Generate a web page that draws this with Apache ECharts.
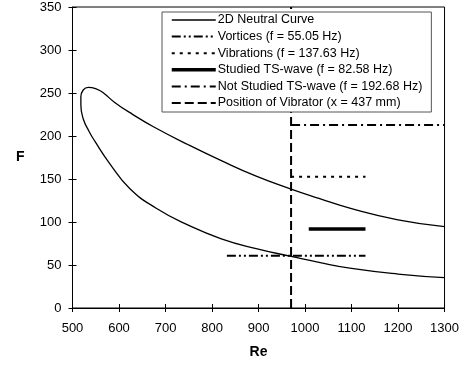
<!DOCTYPE html>
<html>
<head>
<meta charset="utf-8">
<script src="https://cdn.jsdelivr.net/npm/echarts@6/dist/echarts.min.js"></script>
<style>
html,body{margin:0;padding:0;background:#fff;}
#chart{width:462px;height:368px;}
</style>
</head>
<body>
<div id="chart"></div>
<script>
// Neutral curve: traced from the upper branch (right to left), around the nose, then along the lower branch
var neutralRe = [1300, 1200, 1100, 1030, 970, 895, 820, 750, 675, 630, 590, 566, 552, 534, 523, 518, 518, 523, 536, 548, 580, 623, 680, 750, 820, 895, 970, 1030, 1100, 1200, 1300];
var neutralF  = [94.6, 102.6, 115.6, 127.5, 138.3, 153.3, 171.3, 189.5, 210.5, 224.9, 239.3, 250.4, 254.6, 256.6, 253.5, 245.5, 236, 220, 205, 194, 168, 139, 116, 96, 80.5, 69, 60, 53, 46, 39.5, 35.3];

var vorticesRe = [832, 1130];      var vorticesF = 60.8;
var vibrationsRe = [970, 1130];    var vibrationsF = 152.7;
var studiedRe = [1008, 1130];      var studiedF = 92;
var notStudiedRe = [970, 1300];    var notStudiedF = 212.8;
var vibratorRe = 970;              var vibratorF = [0, 350];

var seriesNames = [
  '2D Neutral Curve',
  'Vortices (f = 55.05 Hz)',
  'Vibrations (f = 137.63 Hz)',
  'Studied TS-wave (f = 82.58 Hz)',
  'Not Studied TS-wave (f = 192.68 Hz)',
  'Position of Vibrator (x = 437 mm)'
];
var xTicks = {min: 500, max: 1300, interval: 100};
var yTicks = {min: 0, max: 350, interval: 50};

function pairs(xs, ys) {
  return xs.map(function (x, i) { return [x, Array.isArray(ys) ? ys[i] : ys]; });
}
var neutralData = pairs(neutralRe, neutralF);
var vorticesData = pairs(vorticesRe, vorticesF);
var vibrationsData = pairs(vibrationsRe, vibrationsF);
var studiedData = pairs(studiedRe, studiedF);
var notStudiedData = pairs(notStudiedRe, notStudiedF);
var vibratorData = vibratorF.map(function (f) { return [vibratorRe, f]; });

var font = 'Liberation Sans, Arial, sans-serif';
var lineWidths = [1.3, 2, 2, 3.5, 2, 2];
var lineTypes = ['solid', [9, 3, 2, 3, 2, 3], [3, 5], 'solid', [9, 4, 2, 4], [9, 4]];

function lineSeries(i, data, z) {
  return {
    name: seriesNames[i], type: 'line', data: data, xAxisIndex: 0, yAxisIndex: 0,
    symbol: 'none', showSymbol: false, silent: true, z: z || 2,
    itemStyle: {color: '#000'},
    lineStyle: {color: '#000', width: lineWidths[i], type: lineTypes[i]}
  };
}

var chart = echarts.init(document.getElementById('chart'), null, {renderer: 'canvas'});
var neutral = lineSeries(0, neutralData, 3);
neutral.smooth = 0.5;

chart.setOption({
  animation: false,
  backgroundColor: '#fff',
  grid: {left: 72.5, right: 17, top: 7, bottom: 60, show: true, borderColor: '#000', borderWidth: 1, backgroundColor: 'transparent'},
  legend: {
    show: true, orient: 'vertical', left: 162, top: 12,
    padding: [1, 9, 2, 8],
    backgroundColor: '#fff', borderColor: '#555', borderWidth: 1, borderRadius: 0,
    itemWidth: 44, itemHeight: 14, itemGap: 2.6,
    itemStyle: {color: 'rgba(0,0,0,0)', borderWidth: 0, opacity: 0},
    selectedMode: false,
    textStyle: {fontFamily: font, fontSize: 12.5, color: '#000', lineHeight: 14, padding: [0, 0, 0, -3]},
    data: seriesNames.map(function (n, i) {
      return {name: n, lineStyle: {color: '#000', width: lineWidths[i], type: lineTypes[i]}};
    }),
    z: 10
  },
  xAxis: [{
    type: 'value', min: xTicks.min, max: xTicks.max, interval: xTicks.interval,
    name: 'Re', nameLocation: 'middle', nameGap: 37,
    nameTextStyle: {fontFamily: font, fontSize: 14, fontWeight: 'bold', color: '#000'},
    axisLine: {show: true, onZero: false, lineStyle: {color: '#000', width: 1}},
    axisTick: {show: true, inside: false, length: 4, lineStyle: {color: '#000'}},
    axisLabel: {fontFamily: font, fontSize: 13, color: '#000', margin: 14, formatter: function (v) { return String(v); }},
    splitLine: {show: false}
  }, {
    type: 'value', min: xTicks.min, max: xTicks.max, interval: xTicks.interval, position: 'bottom',
    axisLine: {show: false}, axisTick: {show: true, inside: true, length: 4, lineStyle: {color: '#000'}},
    axisLabel: {show: false}, splitLine: {show: false}
  }],
  yAxis: [{
    type: 'value', min: yTicks.min, max: yTicks.max, interval: yTicks.interval,
    name: 'F', nameLocation: 'middle', nameGap: 48, nameRotate: 0,
    nameTextStyle: {fontFamily: font, fontSize: 14, fontWeight: 'bold', color: '#000'},
    axisLine: {show: true, onZero: false, lineStyle: {color: '#000', width: 1}},
    axisTick: {show: true, inside: false, length: 4, lineStyle: {color: '#000'}},
    axisLabel: {fontFamily: font, fontSize: 13, color: '#000', margin: 11},
    splitLine: {show: false}
  }, {
    type: 'value', min: yTicks.min, max: yTicks.max, interval: yTicks.interval, position: 'left',
    axisLine: {show: false}, axisTick: {show: true, inside: true, length: 4, lineStyle: {color: '#000'}},
    axisLabel: {show: false}, splitLine: {show: false}
  }],
  series: [
    neutral,
    lineSeries(1, vorticesData),
    lineSeries(2, vibrationsData),
    lineSeries(3, studiedData),
    lineSeries(4, notStudiedData),
    lineSeries(5, vibratorData)
  ]
});
</script>
</body>
</html>
